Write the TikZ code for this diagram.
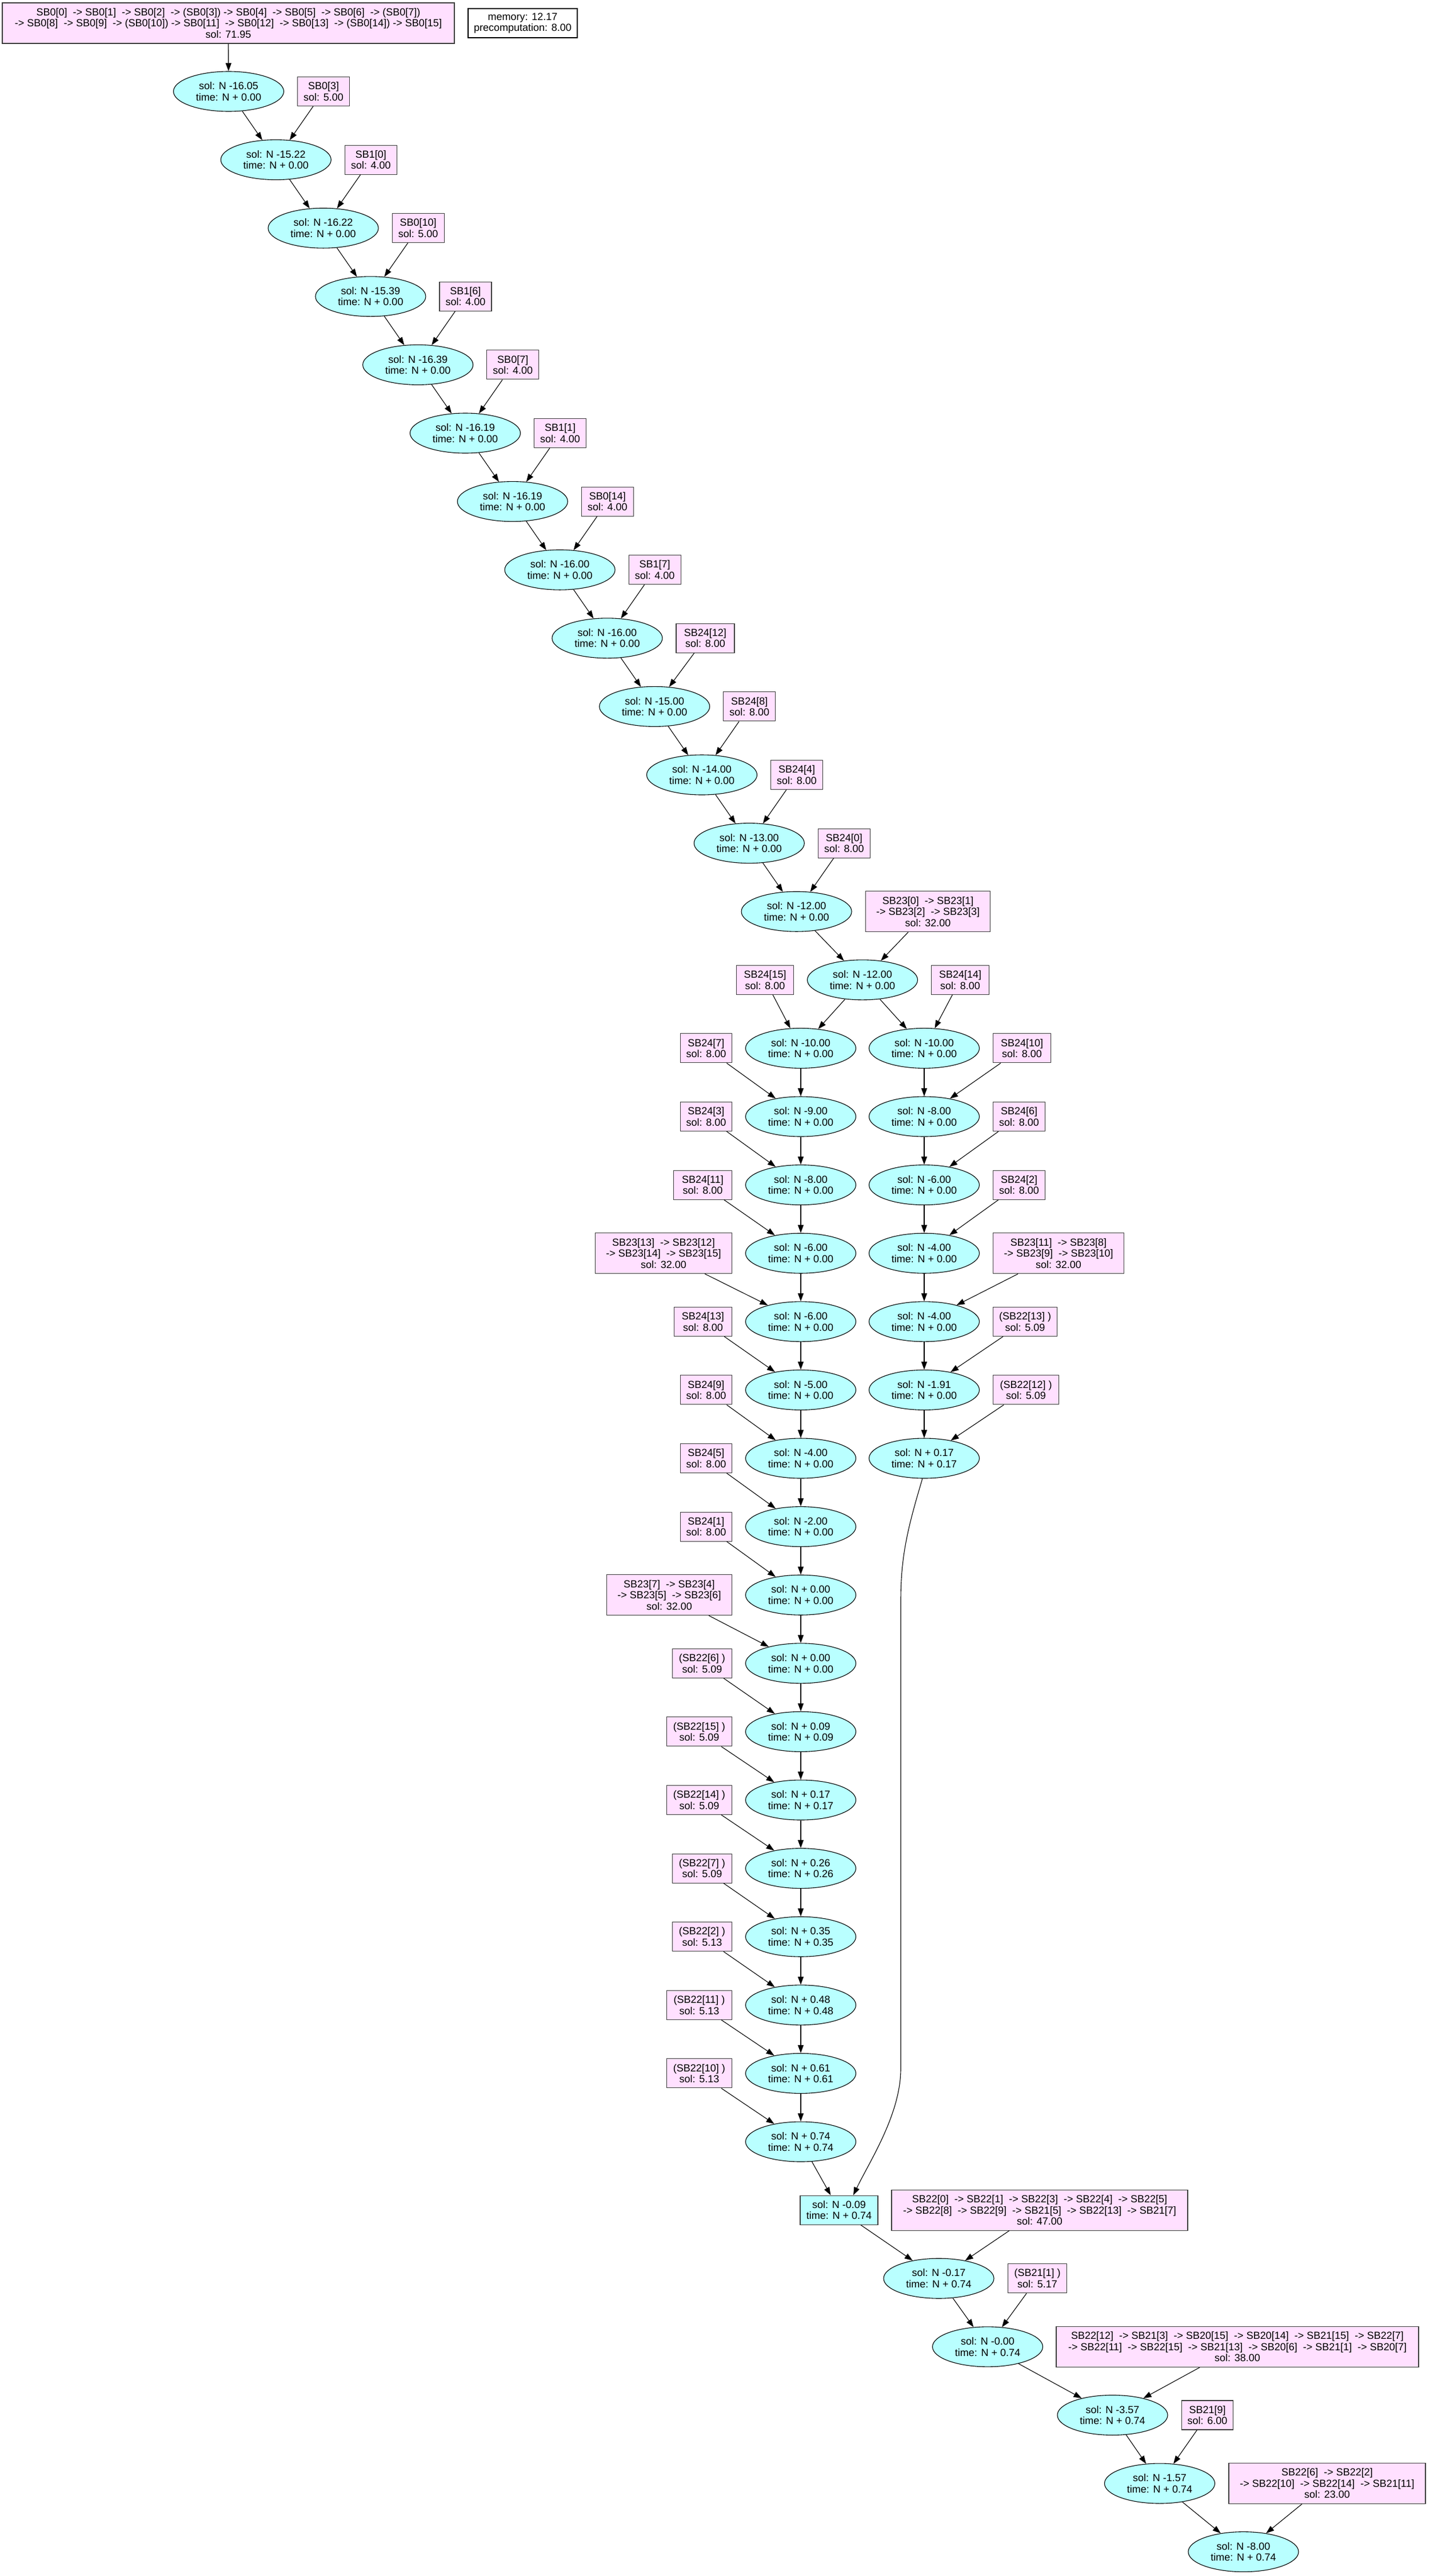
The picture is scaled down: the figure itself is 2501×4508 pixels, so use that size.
\documentclass[tikz,border=0pt]{standalone}
\usepackage{fontspec}
\setmainfont{Liberation Sans}
\usetikzlibrary{shapes.geometric,arrows.meta,calc}
\definecolor{cyanfill}{RGB}{185,255,255}
\definecolor{pinkfill}{RGB}{255,224,255}
\definecolor{boxline}{RGB}{60,60,60}
\begin{document}
\begin{tikzpicture}[x=1pt,y=-1pt,
  every node/.style={font=\fontsize{18}{19.5}\selectfont},
  ell/.style={ellipse, draw=black, fill=cyanfill, minimum width=193pt, minimum height=70pt, inner sep=0pt, align=center, line width=1.1pt},
  sbbox/.style={rectangle, draw=boxline, fill=pinkfill, minimum height=51pt, inner sep=0pt, align=center, line width=1.1pt},
  tall/.style={minimum height=71pt},
  edge/.style={-{Triangle[length=14pt,width=10pt]}, line width=1.1pt, draw=black}
]
\useasboundingbox[fill=white] (0,0) rectangle (2501,4508);

% top
\node[sbbox, tall, minimum width=791pt] (top) at (399.5,40.5) {SB0[0]~ -> SB0[1]~ -> SB0[2]~ -> (SB0[3]) -> SB0[4]~ -> SB0[5]~ -> SB0[6]~ -> (SB0[7])\\-> SB0[8]~ -> SB0[9]~ -> (SB0[10]) -> SB0[11]~ -> SB0[12]~ -> SB0[13]~ -> (SB0[14]) -> SB0[15]\\sol: 71.95};
\node[rectangle, draw=black, fill=white, line width=1.1pt, inner sep=0pt, align=center, minimum width=191pt, minimum height=51pt] (mem) at (914.5,40.5) {memory: 12.17\\precomputation: 8.00};

% top chain
\node[ell] (e0) at (400,160) {sol: N -16.05\\time: N + 0.00};
\node[ell] (e1) at (482.8,279.6) {sol: N -15.22\\time: N + 0.00};
\node[ell] (e2) at (565.6,399.2) {sol: N -16.22\\time: N + 0.00};
\node[ell] (e3) at (648.4,518.8) {sol: N -15.39\\time: N + 0.00};
\node[ell] (e4) at (731.2,638.4) {sol: N -16.39\\time: N + 0.00};
\node[ell] (e5) at (814,758) {sol: N -16.19\\time: N + 0.00};
\node[ell] (e6) at (896.8,877.6) {sol: N -16.19\\time: N + 0.00};
\node[ell] (e7) at (979.6,997.2) {sol: N -16.00\\time: N + 0.00};
\node[ell] (e8) at (1062.4,1116.8) {sol: N -16.00\\time: N + 0.00};
\node[ell] (e9) at (1145.2,1236.4) {sol: N -15.00\\time: N + 0.00};
\node[ell] (e10) at (1228,1356) {sol: N -14.00\\time: N + 0.00};
\node[ell] (e11) at (1310.8,1475.6) {sol: N -13.00\\time: N + 0.00};
\node[ell] (e12) at (1393.6,1595.2) {sol: N -12.00\\time: N + 0.00};
\node[ell] (e13) at (1509,1714.8) {sol: N -12.00\\time: N + 0.00};

\node[sbbox, anchor=west, minimum width=91pt] (b0) at (520,160) {SB0[3]\\sol: 5.00};
\node[sbbox, anchor=west, minimum width=91pt] (b1) at (602.8,279.6) {SB1[0]\\sol: 4.00};
\node[sbbox, anchor=west, minimum width=91pt] (b2) at (685.6,399.2) {SB0[10]\\sol: 5.00};
\node[sbbox, anchor=west, minimum width=91pt] (b3) at (768.4,518.8) {SB1[6]\\sol: 4.00};
\node[sbbox, anchor=west, minimum width=91pt] (b4) at (851.2,638.4) {SB0[7]\\sol: 4.00};
\node[sbbox, anchor=west, minimum width=91pt] (b5) at (934,758) {SB1[1]\\sol: 4.00};
\node[sbbox, anchor=west, minimum width=91pt] (b6) at (1016.8,877.6) {SB0[14]\\sol: 4.00};
\node[sbbox, anchor=west, minimum width=91pt] (b7) at (1099.6,997.2) {SB1[7]\\sol: 4.00};
\node[sbbox, anchor=west, minimum width=102pt] (b8) at (1182.4,1116.8) {SB24[12]\\sol: 8.00};
\node[sbbox, anchor=west, minimum width=91pt] (b9) at (1265.2,1236.4) {SB24[8]\\sol: 8.00};
\node[sbbox, anchor=west, minimum width=91pt] (b10) at (1348,1356) {SB24[4]\\sol: 8.00};
\node[sbbox, anchor=west, minimum width=91pt] (b11) at (1430.8,1475.6) {SB24[0]\\sol: 8.00};
\node[sbbox, tall, anchor=west, minimum width=218pt] (b12) at (1514,1595.2) {SB23[0]~ -> SB23[1]\\-> SB23[2]~ -> SB23[3]\\sol: 32.00};

\node[sbbox, anchor=west, minimum width=100pt] (bl13) at (1288,1714.8) {SB24[15]\\sol: 8.00};
\node[sbbox, anchor=west, minimum width=101pt] (br13) at (1629,1714.8) {SB24[14]\\sol: 8.00};

% left column
\node[ell] (L14) at (1401,1834.4) {sol: N -10.00\\time: N + 0.00};
\node[ell] (L15) at (1401,1954) {sol: N -9.00\\time: N + 0.00};
\node[ell] (L16) at (1401,2073.6) {sol: N -8.00\\time: N + 0.00};
\node[ell] (L17) at (1401,2193.2) {sol: N -6.00\\time: N + 0.00};
\node[ell] (L18) at (1401,2312.8) {sol: N -6.00\\time: N + 0.00};
\node[ell] (L19) at (1401,2432.4) {sol: N -5.00\\time: N + 0.00};
\node[ell] (L20) at (1401,2552) {sol: N -4.00\\time: N + 0.00};
\node[ell] (L21) at (1401,2671.6) {sol: N -2.00\\time: N + 0.00};
\node[ell] (L22) at (1401,2791.2) {sol: N + 0.00\\time: N + 0.00};
\node[ell] (L23) at (1401,2910.8) {sol: N + 0.00\\time: N + 0.00};
\node[ell] (L24) at (1401,3030.4) {sol: N + 0.09\\time: N + 0.09};
\node[ell] (L25) at (1401,3150) {sol: N + 0.17\\time: N + 0.17};
\node[ell] (L26) at (1401,3269.6) {sol: N + 0.26\\time: N + 0.26};
\node[ell] (L27) at (1401,3389.2) {sol: N + 0.35\\time: N + 0.35};
\node[ell] (L28) at (1401,3508.8) {sol: N + 0.48\\time: N + 0.48};
\node[ell] (L29) at (1401,3628.4) {sol: N + 0.61\\time: N + 0.61};
\node[ell] (L30) at (1401,3748) {sol: N + 0.74\\time: N + 0.74};

\node[sbbox, anchor=east, minimum width=90pt] (lb14) at (1281,1834.4) {SB24[7]\\sol: 8.00};
\node[sbbox, anchor=east, minimum width=90pt] (lb15) at (1281,1954) {SB24[3]\\sol: 8.00};
\node[sbbox, anchor=east, minimum width=102pt] (lb16) at (1281,2073.6) {SB24[11]\\sol: 8.00};
\node[sbbox, tall, anchor=east, minimum width=239pt] (lb17) at (1281,2193.2) {SB23[13]~ -> SB23[12]\\-> SB23[14]~ -> SB23[15]\\sol: 32.00};
\node[sbbox, anchor=east, minimum width=101pt] (lb18) at (1281,2312.8) {SB24[13]\\sol: 8.00};
\node[sbbox, anchor=east, minimum width=90pt] (lb19) at (1281,2432.4) {SB24[9]\\sol: 8.00};
\node[sbbox, anchor=east, minimum width=90pt] (lb20) at (1281,2552) {SB24[5]\\sol: 8.00};
\node[sbbox, anchor=east, minimum width=90pt] (lb21) at (1281,2671.6) {SB24[1]\\sol: 8.00};
\node[sbbox, tall, anchor=east, minimum width=219pt] (lb22) at (1281,2791.2) {SB23[7]~ -> SB23[4]\\-> SB23[5]~ -> SB23[6]\\sol: 32.00};
\node[sbbox, anchor=east, minimum width=104pt] (lb23) at (1281,2910.8) {(SB22[6] )\\sol: 5.09};
\node[sbbox, anchor=east, minimum width=114pt] (lb24) at (1281,3030.4) {(SB22[15] )\\sol: 5.09};
\node[sbbox, anchor=east, minimum width=114pt] (lb25) at (1281,3150) {(SB22[14] )\\sol: 5.09};
\node[sbbox, anchor=east, minimum width=104pt] (lb26) at (1281,3269.6) {(SB22[7] )\\sol: 5.09};
\node[sbbox, anchor=east, minimum width=104pt] (lb27) at (1281,3389.2) {(SB22[2] )\\sol: 5.13};
\node[sbbox, anchor=east, minimum width=114pt] (lb28) at (1281,3508.8) {(SB22[11] )\\sol: 5.13};
\node[sbbox, anchor=east, minimum width=114pt] (lb29) at (1281,3628.4) {(SB22[10] )\\sol: 5.13};

% right column
\node[ell] (R14) at (1617,1834.4) {sol: N -10.00\\time: N + 0.00};
\node[ell] (R15) at (1617,1954) {sol: N -8.00\\time: N + 0.00};
\node[ell] (R16) at (1617,2073.6) {sol: N -6.00\\time: N + 0.00};
\node[ell] (R17) at (1617,2193.2) {sol: N -4.00\\time: N + 0.00};
\node[ell] (R18) at (1617,2312.8) {sol: N -4.00\\time: N + 0.00};
\node[ell] (R19) at (1617,2432.4) {sol: N -1.91\\time: N + 0.00};
\node[ell] (R20) at (1617,2552) {sol: N + 0.17\\time: N + 0.17};

\node[sbbox, anchor=west, minimum width=101pt] (rb14) at (1737,1834.4) {SB24[10]\\sol: 8.00};
\node[sbbox, anchor=west, minimum width=91pt] (rb15) at (1737,1954) {SB24[6]\\sol: 8.00};
\node[sbbox, anchor=west, minimum width=91pt] (rb16) at (1737,2073.6) {SB24[2]\\sol: 8.00};
\node[sbbox, tall, anchor=west, minimum width=229pt] (rb17) at (1737,2193.2) {SB23[11]~ -> SB23[8]\\-> SB23[9]~ -> SB23[10]\\sol: 32.00};
\node[sbbox, anchor=west, minimum width=112pt] (rb18) at (1737,2312.8) {(SB22[13] )\\sol: 5.09};
\node[sbbox, anchor=west, minimum width=115pt] (rb19) at (1737,2432.4) {(SB22[12] )\\sol: 5.09};

% bottom chain
\node[rectangle, draw=boxline, fill=cyanfill, line width=1.1pt, inner sep=0pt, align=center, minimum width=136pt, minimum height=51pt] (B0) at (1468,3867.6) {sol: N -0.09\\time: N + 0.74};
\node[ell] (B1) at (1642.5,3987.2) {sol: N -0.17\\time: N + 0.74};
\node[ell] (B2) at (1728,4106.8) {sol: N -0.00\\time: N + 0.74};
\node[ell] (B3) at (1946.5,4226.4) {sol: N -3.57\\time: N + 0.74};
\node[ell] (B4) at (2029,4346) {sol: N -1.57\\time: N + 0.74};
\node[ell] (B5) at (2175.5,4465.6) {sol: N -8.00\\time: N + 0.74};

\node[sbbox, tall, minimum width=518pt] (bb0) at (1819,3867.6) {SB22[0]~ -> SB22[1]~ -> SB22[3]~ -> SB22[4]~ -> SB22[5]\\-> SB22[8]~ -> SB22[9]~ -> SB21[5]~ -> SB22[13]~ -> SB21[7]\\sol: 47.00};
\node[sbbox, anchor=west, minimum width=103pt] (bb1) at (1763,3987.2) {(SB21[1] )\\sol: 5.17};
\node[sbbox, tall, minimum width=634pt] (bb2) at (2165,4106.8) {SB22[12]~ -> SB21[3]~ -> SB20[15]~ -> SB20[14]~ -> SB21[15]~ -> SB22[7]\\-> SB22[11]~ -> SB22[15]~ -> SB21[13]~ -> SB20[6]~ -> SB21[1]~ -> SB20[7]\\sol: 38.00};
\node[sbbox, anchor=west, minimum width=90pt] (bb3) at (2067,4226.4) {SB21[9]\\sol: 6.00};
\node[sbbox, tall, minimum width=344pt] (bb4) at (2322,4346) {SB22[6]~ -> SB22[2]\\-> SB22[10]~ -> SB22[14]~ -> SB21[11]\\sol: 23.00};

\coordinate (k1) at (1576,2800);
\coordinate (k2) at (1576,3620);

% edges
\draw[edge] (top) -- (e0);
\foreach \a/\b in {e0/e1,e1/e2,e2/e3,e3/e4,e4/e5,e5/e6,e6/e7,e7/e8,e8/e9,e9/e10,e10/e11,e11/e12,e12/e13,
  b0/e1,b1/e2,b2/e3,b3/e4,b4/e5,b5/e6,b6/e7,b7/e8,b8/e9,b9/e10,b10/e11,b11/e12,b12/e13,
  e13/L14,e13/R14,bl13/L14,br13/R14,
  L14/L15,L15/L16,L16/L17,L17/L18,L18/L19,L19/L20,L20/L21,L21/L22,L22/L23,L23/L24,L24/L25,L25/L26,L26/L27,L27/L28,L28/L29,L29/L30,
  lb14/L15,lb15/L16,lb16/L17,lb17/L18,lb18/L19,lb19/L20,lb20/L21,lb21/L22,lb22/L23,lb23/L24,lb24/L25,lb25/L26,lb26/L27,lb27/L28,lb28/L29,lb29/L30,
  R14/R15,R15/R16,R16/R17,R17/R18,R18/R19,R19/R20,
  rb14/R15,rb15/R16,rb16/R17,rb17/R18,rb18/R19,rb19/R20,
  L30/B0,B0/B1,B1/B2,B2/B3,B3/B4,B4/B5,
  bb0/B1,bb1/B2,bb2/B3,bb3/B4,bb4/B5}
  {\draw[edge] (\a) -- (\b);}
\draw[edge] (R20.265) .. controls (1590,2668) and (1576,2720) .. (k1) -- (k2) .. controls (1576,3700) and (1521,3783) .. ($(B0.north)+(25,0)$);
\end{tikzpicture}
\end{document}
